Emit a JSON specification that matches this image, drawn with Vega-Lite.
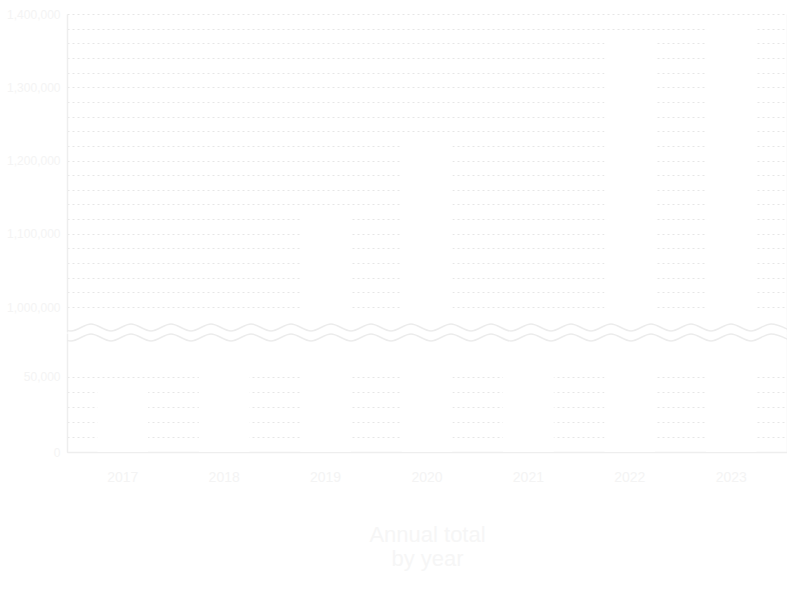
{
  "$schema": "https://vega.github.io/schema/vega-lite/v6.json",
  "description": "Broken-axis bar chart, faded",
  "background": "#ffffff",
  "padding": {"left": 6, "top": 8, "right": 0, "bottom": 5},
  "config": {
    "font": "Liberation Sans",
    "view": {"stroke": null},
    "axis": {
      "domainColor": "#eeeeee",
      "domainWidth": 1.5,
      "gridColor": "#e6e6e6",
      "gridDash": [2, 3],
      "labelColor": "#f4f4f4",
      "labelFontSize": 12,
      "ticks": false,
      "labelPadding": 7
    },
    "axisX": {"grid": false}
  },
  "datasets": {
    "bars": [
      {"year": "2017", "value": 45000},
      {"year": "2018", "value": 62000},
      {"year": "2019", "value": 1130000},
      {"year": "2020", "value": 1230000},
      {"year": "2021", "value": 65000},
      {"year": "2022", "value": 1370000},
      {"year": "2023", "value": 1390000}
    ],
    "wave": [
      {"px": -16, "wu": 976800, "wl": 78667},
      {"px": 4, "wu": 967240, "wl": 74000},
      {"px": 24, "wu": 976800, "wl": 78667},
      {"px": 44, "wu": 967240, "wl": 74000},
      {"px": 64, "wu": 976800, "wl": 78667},
      {"px": 84, "wu": 967240, "wl": 74000},
      {"px": 104, "wu": 976800, "wl": 78667},
      {"px": 124, "wu": 967240, "wl": 74000},
      {"px": 144, "wu": 976800, "wl": 78667},
      {"px": 164, "wu": 967240, "wl": 74000},
      {"px": 184, "wu": 976800, "wl": 78667},
      {"px": 204, "wu": 967240, "wl": 74000},
      {"px": 224, "wu": 976800, "wl": 78667},
      {"px": 244, "wu": 967240, "wl": 74000},
      {"px": 264, "wu": 976800, "wl": 78667},
      {"px": 284, "wu": 967240, "wl": 74000},
      {"px": 304, "wu": 976800, "wl": 78667},
      {"px": 324, "wu": 967240, "wl": 74000},
      {"px": 344, "wu": 976800, "wl": 78667},
      {"px": 364, "wu": 967240, "wl": 74000},
      {"px": 384, "wu": 976800, "wl": 78667},
      {"px": 404, "wu": 967240, "wl": 74000},
      {"px": 424, "wu": 976800, "wl": 78667},
      {"px": 444, "wu": 967240, "wl": 74000},
      {"px": 464, "wu": 976800, "wl": 78667},
      {"px": 484, "wu": 967240, "wl": 74000},
      {"px": 504, "wu": 976800, "wl": 78667},
      {"px": 524, "wu": 967240, "wl": 74000},
      {"px": 544, "wu": 976800, "wl": 78667},
      {"px": 564, "wu": 967240, "wl": 74000},
      {"px": 584, "wu": 976800, "wl": 78667},
      {"px": 604, "wu": 967240, "wl": 74000},
      {"px": 624, "wu": 976800, "wl": 78667},
      {"px": 644, "wu": 967240, "wl": 74000},
      {"px": 664, "wu": 976800, "wl": 78667},
      {"px": 684, "wu": 967240, "wl": 74000},
      {"px": 704, "wu": 976800, "wl": 78667},
      {"px": 724, "wu": 967240, "wl": 74000}
    ]
  },
  "spacing": 1,
  "vconcat": [
    {
      "width": 720,
      "height": 318,
      "layer": [
        {
          "data": {"name": "bars"},
          "mark": {"type": "bar", "color": "#ffffff", "clip": true},
          "encoding": {
            "x": {
              "field": "year",
              "type": "nominal",
              "axis": null,
              "scale": {"paddingInner": 0.5, "paddingOuter": 0.3}
            },
            "y": {
              "field": "value",
              "type": "quantitative",
              "scale": {"domain": [965900, 1400000], "nice": false},
              "axis": {
                "title": null,
                "values": [1000000, 1020000, 1040000, 1060000, 1080000, 1100000, 1120000, 1140000, 1160000, 1180000, 1200000, 1220000, 1240000, 1260000, 1280000, 1300000, 1320000, 1340000, 1360000, 1380000, 1400000],
                "labelExpr": "datum.value % 100000 === 0 ? format(datum.value, ',') : ''"
              }
            }
          }
        },
        {
          "data": {"name": "wave"},
          "mark": {"type": "line", "interpolate": "monotone", "clip": true, "color": "#ececec", "strokeWidth": 1.5},
          "encoding": {
            "x": {
              "field": "px",
              "type": "quantitative",
              "axis": null,
              "scale": {"domain": [0, 720], "nice": false, "zero": false}
            },
            "y": {
              "field": "wu",
              "type": "quantitative",
              "scale": {"domain": [965900, 1400000], "nice": false},
              "axis": {"orient": "right", "labels": false, "grid": false, "title": null}
            }
          }
        }
      ],
      "resolve": {"scale": {"x": "independent"}, "axis": {"y": "independent"}}
    },
    {
      "width": 720,
      "height": 119,
      "layer": [
        {
          "data": {"name": "bars"},
          "mark": {"type": "bar", "color": "#ffffff", "clip": true},
          "encoding": {
            "x": {
              "field": "year",
              "type": "nominal",
              "scale": {"paddingInner": 0.5, "paddingOuter": 0.3},
              "axis": {
                "labelAngle": 0,
                "labelFontSize": 14,
                "labelPadding": 18,
                "title": ["Annual total", "by year"],
                "titleColor": "#f6f6f6",
                "titleFontSize": 22,
                "titleFontWeight": "normal",
                "titlePadding": 40
              }
            },
            "y": {
              "field": "value",
              "type": "quantitative",
              "scale": {"domain": [0, 79333], "nice": false},
              "axis": {
                "title": null,
                "values": [0, 10000, 20000, 30000, 40000, 50000],
                "labelExpr": "datum.value % 50000 === 0 ? format(datum.value, ',') : ''"
              }
            }
          }
        },
        {
          "data": {"name": "wave"},
          "mark": {"type": "line", "interpolate": "monotone", "clip": true, "color": "#ececec", "strokeWidth": 1.5},
          "encoding": {
            "x": {
              "field": "px",
              "type": "quantitative",
              "axis": null,
              "scale": {"domain": [0, 720], "nice": false, "zero": false}
            },
            "y": {
              "field": "wl",
              "type": "quantitative",
              "scale": {"domain": [0, 79333], "nice": false},
              "axis": {"orient": "right", "labels": false, "grid": false, "title": null}
            }
          }
        }
      ],
      "resolve": {"scale": {"x": "independent"}, "axis": {"y": "independent"}}
    }
  ]
}
